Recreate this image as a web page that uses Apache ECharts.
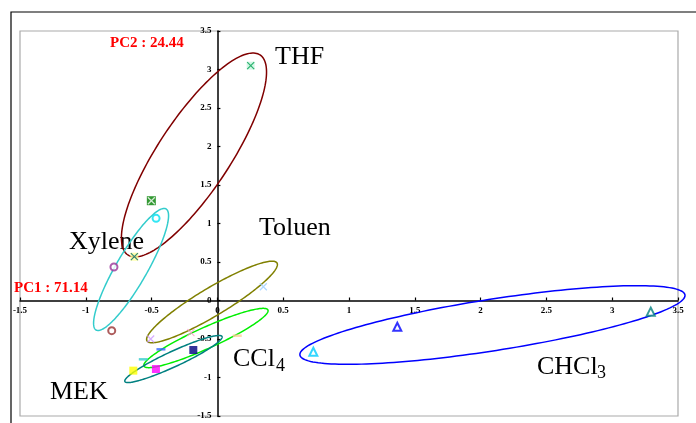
<!DOCTYPE html>
<html>
<head>
<meta charset="utf-8">
<script src="https://cdn.jsdelivr.net/npm/echarts@6/dist/echarts.min.js"></script>
<style>
html,body{margin:0;padding:0;background:#fff;}
#chart{width:696px;height:423px;}
</style>
</head>
<body>
<div id="chart"></div>
<script>
// ---- axis ticks ----
const xTicks = [-1.5, -1, -0.5, 0, 0.5, 1, 1.5, 2, 2.5, 3, 3.5];
const yTicks = [-1.5, -1, -0.5, 0, 0.5, 1, 1.5, 2, 2.5, 3, 3.5];

// ---- point scores (PC1, PC2) ----
const ptTHF = [[0.253, 3.05]];
const ptGreenSq = [[-0.502, 1.296]];
const ptCyanCircle = [[-0.466, 1.067]];
const ptYellowX = [[-0.631, 0.569]];
const ptPurpleCircle = [[-0.786, 0.435]];
const ptRedCircle = [[-0.803, -0.392]];
const ptBlueX = [[0.349, 0.179]];
const ptLavenderX = [[-0.507, -0.50]];
const ptPinkX = [[-0.201, -0.418]];
const ptPeachDash = [[0.151, -0.457]];
const ptBlueDash = [[-0.429, -0.634]];
const ptCyanDash = [[-0.563, -0.764]];
const ptNavySq = [[-0.183, -0.643]];
const ptYellowSq = [[-0.639, -0.911]];
const ptMagentaSq = [[-0.467, -0.89]];
const ptCyanTri = [[0.729, -0.665]];
const ptBlueTri = [[1.367, -0.34]];
const ptTealTri = [[3.293, -0.145]];

// ---- ellipses: [centerX, centerY, majorVecX, majorVecY, minorVecX, minorVecY] ----
const ellTHF = [-0.178, 1.89, 0.502, 1.299, 0.228, -0.257];
const ellXylene = [-0.656, 0.403, 0.266, 0.786, 0.102, -0.101];
const ellToluen = [-0.041, -0.019, 0.494, 0.506, 0.0547, -0.156];
const ellCCl4 = [-0.087, -0.487, 0.471, 0.364, 0.0327, -0.125];
const ellMEK = [-0.334, -0.76, 0.369, 0.292, 0.0246, -0.0906];
const ellCHCl3 = [2.09, -0.318, 1.463, 0.390, 0.030, -0.330];

const labelPC1 = 'PC1 : 71.14';
const labelPC2 = 'PC2 : 24.44';

const SERIF = '"Liberation Serif", "Times New Roman", serif';
const XPATH = 'path://M0,0L10,10M10,0L0,10';

function ellipseSeries(params, color) {
  return {
    type: 'custom', data: [params], clip: false, silent: true, z: 2,
    encode: {x: 0, y: 1},
    renderItem: function (p, api) {
      const cx = api.value(0), cy = api.value(1), ux = api.value(2), uy = api.value(3), vx = api.value(4), vy = api.value(5);
      const pts = [];
      const N = 180;
      for (let k = 0; k < N; k++) {
        const t = 2 * Math.PI * k / N;
        pts.push(api.coord([cx + ux * Math.cos(t) + vx * Math.sin(t), cy + uy * Math.cos(t) + vy * Math.sin(t)]));
      }
      return {type: 'polygon', shape: {points: pts}, style: {fill: 'none', stroke: color, lineWidth: 1.5}};
    }
  };
}

function sc(data, symbol, size, itemStyle, z) {
  return {type: 'scatter', data: data, symbol: symbol, symbolSize: size, itemStyle: itemStyle, clip: false, silent: true, z: z || 3};
}
function xMark(data, color, size, z) {
  return sc(data, XPATH, size || 7, {color: 'transparent', borderColor: color, borderWidth: 1.2}, z || 4);
}

// plot geometry
const W = 696, H = 423;
const G = {left: 20, right: 18, top: 31, bottom: 7};
const plotW = W - G.left - G.right, plotH = H - G.top - G.bottom;
const xMin = xTicks[0], xMax = xTicks[xTicks.length - 1];
const yMin = yTicks[0], yMax = yTicks[yTicks.length - 1];
// shift axes onto the zero lines
const xAxisOffset = -((0 - yMin) / (yMax - yMin)) * plotH;
const yAxisOffset = -((0 - xMin) / (xMax - xMin)) * plotW;

const axisCommon = {
  type: 'value', interval: 0.5,
  splitLine: {show: false},
  axisLine: {onZero: false, lineStyle: {color: '#000', width: 1.5}},
  axisTick: {inside: true, length: 3, lineStyle: {color: '#000', width: 1.2}},
  axisLabel: {fontSize: 9, fontWeight: 'bold', fontFamily: SERIF, color: '#000', margin: 6, hideOverlap: false}
};

const chart = echarts.init(document.getElementById('chart'), null, {renderer: 'canvas'});
chart.setOption({
  backgroundColor: '#fff',
  animation: false,
  grid: Object.assign({show: true, borderColor: '#aaaaaa', borderWidth: 1.2, backgroundColor: 'transparent', containLabel: false, outerBoundsMode: 'none'}, G),
  xAxis: Object.assign({}, axisCommon, {min: xMin, max: xMax, position: 'bottom', offset: xAxisOffset}),
  yAxis: Object.assign({}, axisCommon, {min: yMin, max: yMax, position: 'left', offset: yAxisOffset}),
  series: [
    ellipseSeries(ellTHF, '#800000'),
    ellipseSeries(ellXylene, '#33CCCC'),
    ellipseSeries(ellToluen, '#808000'),
    ellipseSeries(ellCCl4, '#00EE00'),
    ellipseSeries(ellMEK, '#008080'),
    ellipseSeries(ellCHCl3, '#0000FF'),
    sc(ptTHF, 'rect', 8, {color: '#c8f5e0'}),
    xMark(ptTHF, '#00a050', 7),
    sc(ptGreenSq, 'rect', 9, {color: '#008000'}),
    xMark(ptGreenSq, '#ffffff', 7),
    sc(ptCyanCircle, 'emptyCircle', 7, {color: '#00e0f0', borderWidth: 1.2}),
    sc(ptYellowX, 'rect', 8, {color: '#ffff99'}),
    xMark(ptYellowX, '#006666', 7),
    sc(ptPurpleCircle, 'emptyCircle', 7, {color: '#993399', borderWidth: 1.2}),
    sc(ptRedCircle, 'emptyCircle', 7, {color: '#993333', borderWidth: 1.2}),
    xMark(ptBlueX, '#99ccff', 7),
    xMark(ptLavenderX, '#cc99ff', 7),
    xMark(ptPinkX, '#ff99cc', 7),
    sc(ptPeachDash, 'rect', [9, 2.5], {color: '#ffcc99'}),
    sc(ptBlueDash, 'rect', [9, 2.5], {color: '#3366ff'}),
    sc(ptCyanDash, 'rect', [9, 2.5], {color: '#33cccc'}),
    sc(ptNavySq, 'rect', 8, {color: '#000080'}),
    sc(ptYellowSq, 'rect', 8, {color: '#ffff00'}),
    sc(ptMagentaSq, 'rect', 8, {color: '#ff00ff'}),
    sc(ptCyanTri, 'emptyTriangle', 8, {color: '#00ccff', borderWidth: 1.2}),
    sc(ptBlueTri, 'emptyTriangle', 8, {color: '#0000ff', borderWidth: 1.2}),
    sc(ptTealTri, 'emptyTriangle', 8, {color: '#008080', borderWidth: 1.2})
  ],
  graphic: [
    {type: 'rect', shape: {x: 11, y: 12, width: 720, height: 500}, style: {fill: 'none', stroke: '#000', lineWidth: 1.2}, silent: true, z: 0},
    {type: 'text', x: 110, y: 43, style: {text: labelPC2, font: 'bold 15px ' + SERIF, fill: '#ff0000', align: 'left', verticalAlign: 'middle'}},
    {type: 'text', x: 14, y: 288, style: {text: labelPC1, font: 'bold 15px ' + SERIF, fill: '#ff0000', align: 'left', verticalAlign: 'middle'}},
    {type: 'text', x: 275, y: 57, style: {text: 'THF', font: '26px ' + SERIF, fill: '#000', align: 'left', verticalAlign: 'middle'}},
    {type: 'text', x: 69, y: 242, style: {text: 'Xylene', font: '26px ' + SERIF, fill: '#000', align: 'left', verticalAlign: 'middle'}},
    {type: 'text', x: 259, y: 228, style: {text: 'Toluen', font: '26px ' + SERIF, fill: '#000', align: 'left', verticalAlign: 'middle'}},
    {type: 'text', x: 50, y: 392, style: {text: 'MEK', font: '26px ' + SERIF, fill: '#000', align: 'left', verticalAlign: 'middle'}},
    {type: 'text', x: 233, y: 359, style: {text: 'CCl', font: '26px ' + SERIF, fill: '#000', align: 'left', verticalAlign: 'middle'}},
    {type: 'text', x: 276, y: 366, style: {text: '4', font: '18px ' + SERIF, fill: '#000', align: 'left', verticalAlign: 'middle'}},
    {type: 'text', x: 537, y: 367, style: {text: 'CHCl', font: '26px ' + SERIF, fill: '#000', align: 'left', verticalAlign: 'middle'}},
    {type: 'text', x: 597, y: 373, style: {text: '3', font: '18px ' + SERIF, fill: '#000', align: 'left', verticalAlign: 'middle'}}
  ]
});
</script>
</body>
</html>
